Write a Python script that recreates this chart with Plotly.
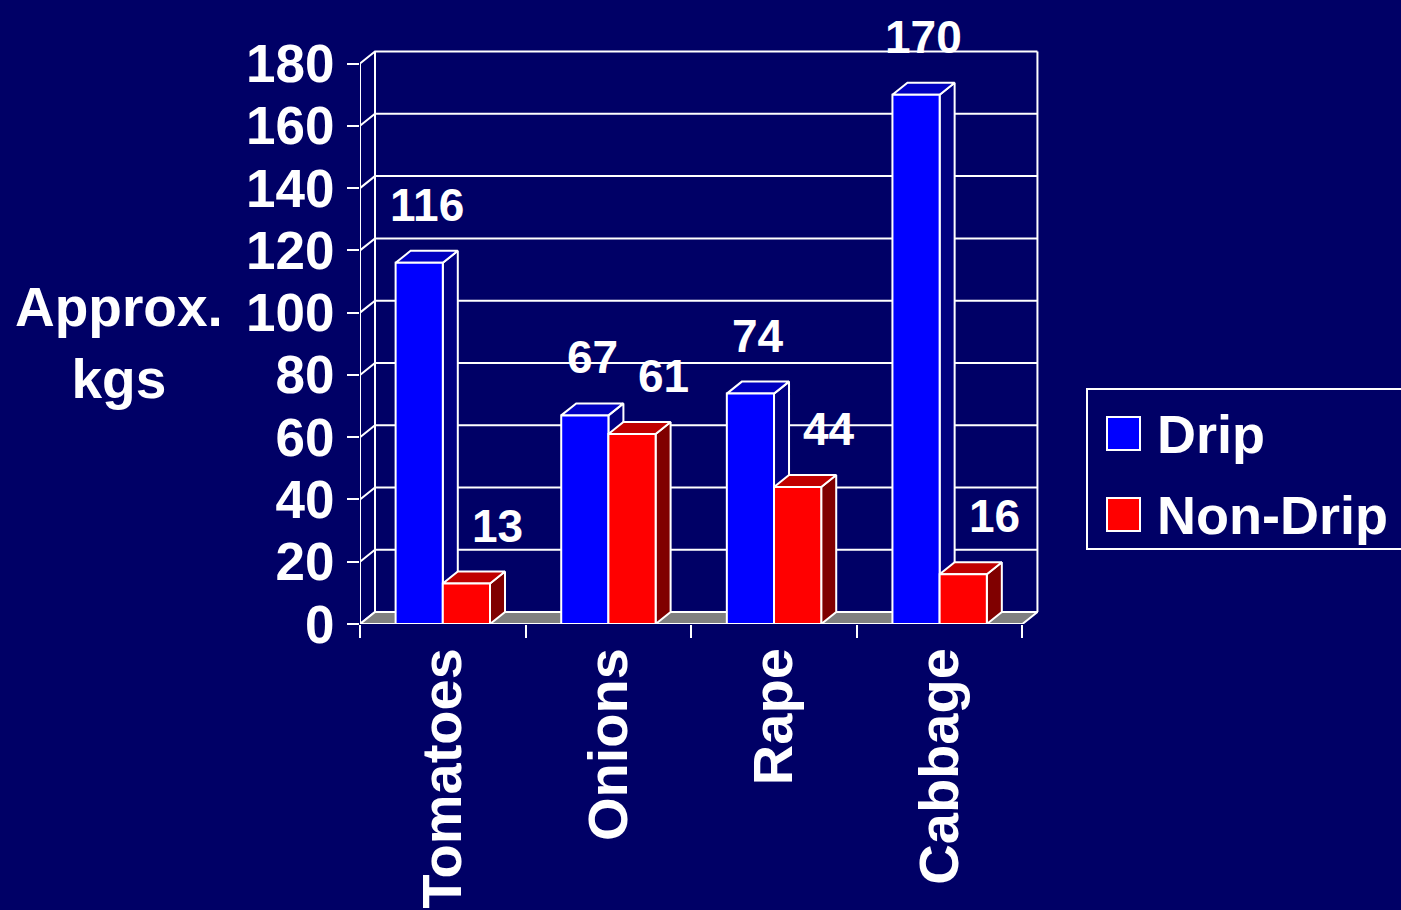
import plotly.graph_objects as go

# ---------------- data ----------------
categories = ["Tomatoes", "Onions", "Rape", "Cabbage"]
drip = [116, 67, 74, 170]
non_drip = [13, 61, 44, 16]
series_names = ["Drip", "Non-Drip"]
y_ticks = [0, 20, 40, 60, 80, 100, 120, 140, 160, 180]
y_title = "Approx.<br>kgs"

# ---------------- style / layout constants ----------------
W, H = 1401, 910
L, R, T, B = 360, 362, 48, 286
X_MAX = 4.1
Y_MAX = 185
plot_w = W - L - R
plot_h = H - T - B
px_x = plot_w / X_MAX
px_y = plot_h / Y_MAX
DX = 15 / px_x          # depth offset (x units)
DY = 12 / px_y          # depth offset (y units)
BAR_W = 0.285
BG = "#000066"
FONT = "Liberation Sans, Arial, sans-serif"
front_cols = ["#0000FF", "#FF0000"]
top_cols = ["#0000C0", "#C00000"]
side_cols = ["#000080", "#800000"]
label_xshift = [0, 24]

n = len(categories)
y_top = max(y_ticks)

fig = go.Figure()

# ---------------- walls & gridlines ----------------
gx, gy = [], []
for v in y_ticks:
    gx += [0, DX, n + DX, None]
    gy += [v, v + DY, v + DY, None]
gx += [DX, DX, None, n + DX, n + DX, None, 0, 0, None]
gy += [DY, y_top + DY, None, DY, y_top + DY, None, 0, y_top, None]
fig.add_trace(go.Scatter(x=gx, y=gy, mode="lines",
                         line=dict(color="white", width=2),
                         hoverinfo="skip", showlegend=False))

# floor
fig.add_trace(go.Scatter(x=[0, n, n + DX, DX, 0], y=[0, 0, DY, DY, 0],
                         mode="lines", fill="toself", fillcolor="#808080",
                         line=dict(color="white", width=2),
                         hoverinfo="skip", showlegend=False))


# ---------------- 3D bars ----------------
def poly_trace(polys, color, name):
    xs, ys = [], []
    for p in polys:
        xs += [pt[0] for pt in p] + [p[0][0], None]
        ys += [pt[1] for pt in p] + [p[0][1], None]
    return go.Scatter(x=xs, y=ys, mode="lines", fill="toself",
                      fillcolor=color, line=dict(color="white", width=2),
                      name=name, hoverinfo="skip", showlegend=False)


annotations = []
for s, vals in enumerate([drip, non_drip]):
    fronts, tops, sides = [], [], []
    for i, v in enumerate(vals):
        c = i + 0.5
        x0 = c - BAR_W if s == 0 else c
        x1 = x0 + BAR_W
        fronts.append([(x0, 0), (x1, 0), (x1, v), (x0, v)])
        tops.append([(x0, v), (x1, v), (x1 + DX, v + DY), (x0 + DX, v + DY)])
        sides.append([(x1, 0), (x1 + DX, DY), (x1 + DX, v + DY), (x1, v)])
        annotations.append(dict(
            x=(x0 + x1) / 2 + DX / 2, y=v + DY, xref="x", yref="y",
            text=str(v), showarrow=False, yanchor="middle",
            yshift=46, xshift=label_xshift[s],
            font=dict(family=FONT, size=46, color="white", weight="bold")))
    fig.add_trace(poly_trace(sides, side_cols[s], series_names[s]))
    fig.add_trace(poly_trace(tops, top_cols[s], series_names[s]))
    fig.add_trace(poly_trace(fronts, front_cols[s], series_names[s]))


# ---------------- legend (drawn manually) ----------------
def pxx(p):
    return (p - L) / plot_w


def pxy(p):
    return (H - B - p) / plot_h


shapes = [dict(type="rect", xref="paper", yref="paper",
               x0=pxx(1087), x1=pxx(1420), y0=pxy(549), y1=pxy(389),
               line=dict(color="white", width=2), fillcolor=BG, layer="below")]
leg_rows = [434, 515]
for s, name in enumerate(series_names):
    cy = leg_rows[s]
    shapes.append(dict(type="rect", xref="paper", yref="paper",
                       x0=pxx(1107), x1=pxx(1140), y0=pxy(cy + 16), y1=pxy(cy - 17),
                       line=dict(color="white", width=2), fillcolor=front_cols[s]))
    annotations.append(dict(x=pxx(1155), y=pxy(cy), xref="paper", yref="paper",
                            xanchor="left", yanchor="middle", text=name,
                            showarrow=False,
                            font=dict(family=FONT, size=54, color="white", weight="bold")))

# y-axis title
annotations.append(dict(x=pxx(119), y=pxy(343), xref="paper", yref="paper",
                        xanchor="center", yanchor="middle", text=y_title,
                        showarrow=False, align="center",
                        font=dict(family=FONT, size=55, color="white", weight="bold")))

fig.update_layout(
    width=W, height=H,
    margin=dict(l=L, r=R, t=T, b=B, pad=0),
    paper_bgcolor=BG, plot_bgcolor=BG,
    showlegend=False,
    shapes=shapes,
    annotations=annotations,
    font=dict(family=FONT, color="white"),
)
fig.update_xaxes(
    range=[0, X_MAX], showgrid=False, zeroline=False, showline=False,
    automargin=False,
    tickmode="array", tickvals=[i + 0.5 for i in range(n)], ticktext=categories,
    ticks="", tickangle=-90, ticklabelstandoff=12,
    tickfont=dict(family=FONT, size=56, color="white", weight="bold"),
    minor=dict(tickmode="array", tickvals=list(range(n + 1)), ticks="outside",
               ticklen=13, tickwidth=2, tickcolor="white"),
    fixedrange=True,
)
fig.update_yaxes(
    range=[0, Y_MAX], showgrid=False, zeroline=False, showline=False,
    automargin=False,
    tickmode="array", tickvals=y_ticks, ticks="outside", ticklen=12,
    tickwidth=2, tickcolor="white", ticklabelstandoff=2,
    tickfont=dict(family=FONT, size=53, color="white", weight="bold"),
    fixedrange=True,
)

fig.write_html(
    "out.html",
    config={"displayModeBar": False},
    post_script="document.body.style.margin='0';"
                "document.body.style.overflow='hidden';"
                "document.body.style.background='" + BG + "';",
)
